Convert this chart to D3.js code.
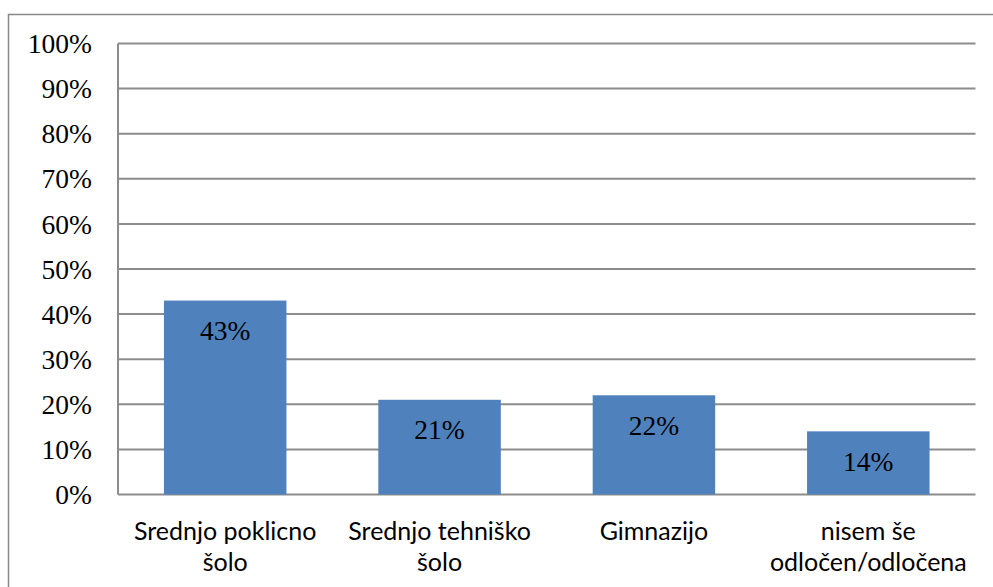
<!DOCTYPE html>
<html><head><meta charset="utf-8">
<script src="https://cdn.jsdelivr.net/npm/d3@7"></script>
<style>html,body{margin:0;padding:0;background:#fff;}</style>
</head><body>
<svg id="c" width="993" height="587"></svg>
<script>
const categories = [["Srednjo poklicno","šolo"],["Srednjo tehniško","šolo"],["Gimnazijo"],["nisem še","odločen/odločena"]];
const values = [0.43, 0.21, 0.22, 0.14];
const yTicks = [0,0.1,0.2,0.3,0.4,0.5,0.6,0.7,0.8,0.9,1.0];

const svg = d3.select("#c");
const W = 993, H = 587;
const m = {left:118, right:W-975.5, top:43.5, bottom:H-494.5};

svg.append("rect").attr("x",8.5).attr("y",14.5).attr("width",1000).attr("height",600)
  .attr("fill","#fff").attr("stroke","#888").attr("stroke-width",1.5);

const x = d3.scaleBand().domain(d3.range(values.length)).range([m.left, W-m.right]).paddingInner(0.4286).paddingOuter(0.2143);
const y = d3.scaleLinear().domain([0,1]).range([H-m.bottom, m.top]);

const g = svg.append("g");
g.selectAll("line.grid").data(yTicks).enter().append("line")
  .attr("x1",m.left).attr("x2",W-m.right)
  .attr("y1",d=>y(d)).attr("y2",d=>y(d))
  .attr("stroke","#8c8c8c").attr("stroke-width",2);
g.append("line").attr("x1",m.left).attr("x2",m.left).attr("y1",y(0)).attr("y2",y(1))
  .attr("stroke","#8c8c8c").attr("stroke-width",2);

g.selectAll("text.yt").data(yTicks).enter().append("text")
  .attr("x",92).attr("y",d=>y(d)).attr("dy","0.35em").attr("text-anchor","end")
  .attr("font-family","'Liberation Serif', serif").attr("font-size",27.5).attr("fill","#000")
  .text(d=>d3.format(".0%")(d));

g.selectAll("rect.bar").data(values).enter().append("rect")
  .attr("x",(d,i)=>x(i)).attr("width",x.bandwidth())
  .attr("y",d=>y(d)).attr("height",d=>y(0)-y(d))
  .attr("fill","#4f81bd");

g.selectAll("text.lab").data(values).enter().append("text")
  .attr("x",(d,i)=>x(i)+x.bandwidth()/2).attr("y",d=>y(d)+30).attr("dy","0.35em")
  .attr("text-anchor","middle")
  .attr("font-family","'Liberation Serif', serif").attr("font-size",27.5).attr("fill","#000")
  .text(d=>d3.format(".0%")(d));

categories.forEach((lines,i)=>{
  const t = g.append("text").attr("text-anchor","middle")
    .attr("font-family","Lato, sans-serif").attr("font-size",25).attr("fill","#000");
  lines.forEach((ln,k)=>{
    t.append("tspan").attr("x",x(i)+x.bandwidth()/2).attr("y",531+k*31).attr("dy","0.35em").text(ln);
  });
});
</script>
</body></html>
